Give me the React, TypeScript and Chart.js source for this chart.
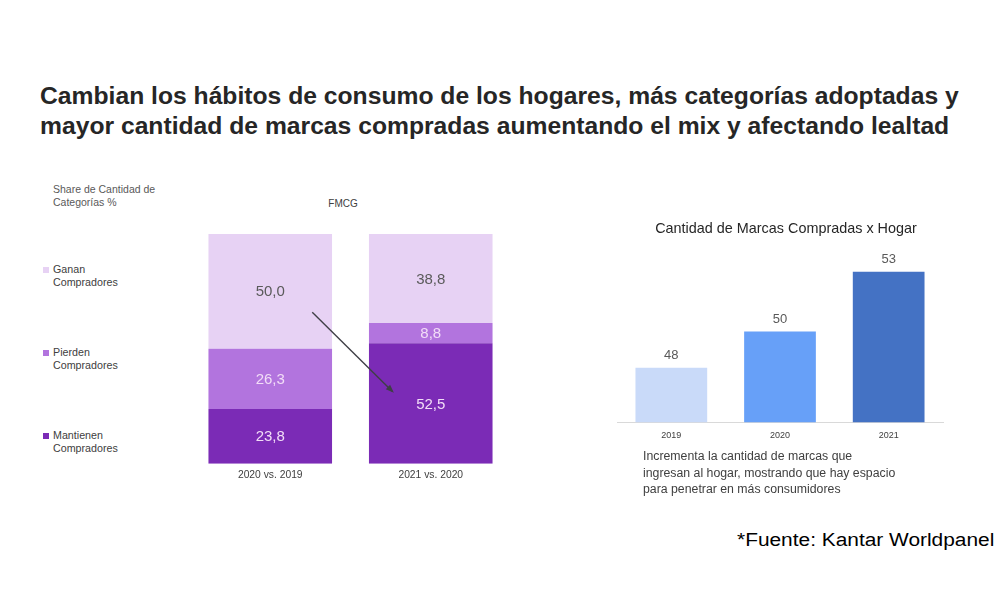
import React, { useEffect, useRef } from "react";
import { Chart, registerables } from "chart.js";

Chart.register(...registerables);

const FONT = "'Liberation Sans', Arial, sans-serif";

// Left chart: share of category count (%)
const shareCategories = ["2020 vs. 2019", "2021 vs. 2020"];
const mantienenValues = [23.8, 52.5];
const pierdenValues = [26.3, 8.8];
const gananValues = [50.0, 38.8];
const shareSeriesNames = ["Ganan\nCompradores", "Pierden\nCompradores", "Mantienen\nCompradores"];
const shareColors = ["#E7D2F4", "#B274DE", "#7B2BB6"];

// Right chart: brands bought per household
const brandTitle = "Cantidad de Marcas Compradas x Hogar";
const brandYears = ["2019", "2020", "2021"];
const brandValues = [48.0, 50.0, 53.3];
const brandColors = ["#C9DAF9", "#67A0F8", "#4472C4"];

const titleLines = [
  "Cambian los hábitos de consumo de los hogares, más categorías adoptadas y",
  "mayor cantidad de marcas compradas aumentando el mix y afectando lealtad",
];
const noteLines = [
  "Incrementa la cantidad de marcas que",
  "ingresan al hogar, mostrando que hay espacio",
  "para penetrar en más consumidores",
];

const fmtComma = (v: number) => v.toFixed(1).replace(".", ",");

function ShareChart() {
  const ref = useRef<HTMLCanvasElement | null>(null);
  useEffect(() => {
    if (!ref.current) return;
    const labelsPlugin = {
      id: "segLabels",
      afterDatasetsDraw(chart: any) {
        const ctx = chart.ctx;
        ctx.save();
        ctx.font = `15px ${FONT}`;
        ctx.textAlign = "center";
        ctx.textBaseline = "middle";
        chart.data.datasets.forEach((ds: any, di: number) => {
          const meta = chart.getDatasetMeta(di);
          meta.data.forEach((el: any, i: number) => {
            const cy = (el.y + el.base) / 2;
            ctx.fillStyle = ds.labelColor;
            ctx.fillText(fmtComma(ds.data[i]), el.x, cy + 1);
          });
        });
        // arrow from Ganan (bar 0) to Mantienen (bar 1)
        const g0 = chart.getDatasetMeta(2).data[0];
        const m1 = chart.getDatasetMeta(0).data[1];
        const sx = g0.x + g0.width * 0.34;
        const sy = (g0.y + g0.base) / 2 + 21;
        const ex = m1.x - m1.width * 0.31;
        const ey = (m1.y + m1.base) / 2 - 12;
        ctx.strokeStyle = "#3F3F46";
        ctx.fillStyle = "#3F3F46";
        ctx.lineWidth = 1.4;
        ctx.beginPath();
        ctx.moveTo(sx, sy);
        ctx.lineTo(ex, ey);
        ctx.stroke();
        const ang = Math.atan2(ey - sy, ex - sx);
        ctx.beginPath();
        ctx.moveTo(ex + Math.cos(ang) * 2, ey + Math.sin(ang) * 2);
        ctx.lineTo(ex - Math.cos(ang - 0.45) * 7, ey - Math.sin(ang - 0.45) * 7);
        ctx.lineTo(ex - Math.cos(ang + 0.45) * 7, ey - Math.sin(ang + 0.45) * 7);
        ctx.closePath();
        ctx.fill();
        ctx.restore();
      },
    };
    const chart = new Chart(ref.current, {
      type: "bar",
      data: {
        labels: shareCategories,
        datasets: [
          { label: shareSeriesNames[2], data: mantienenValues, backgroundColor: shareColors[2], labelColor: "#F2DDF7" } as any,
          { label: shareSeriesNames[1], data: pierdenValues, backgroundColor: shareColors[1], labelColor: "#F2DDF7" } as any,
          { label: shareSeriesNames[0], data: gananValues, backgroundColor: shareColors[0], labelColor: "#5A5A5A" } as any,
        ],
      },
      options: {
        animation: false,
        responsive: false,
        maintainAspectRatio: false,
        layout: { padding: 0 },
        datasets: { bar: { barPercentage: 0.77, categoryPercentage: 1 } },
        plugins: { legend: { display: false }, tooltip: { enabled: false }, title: { display: false } },
        scales: {
          x: {
            stacked: true,
            grid: { display: false, drawTicks: false },
            border: { display: false },
            ticks: { color: "#404040", font: { size: 10.3, family: FONT }, padding: 5 },
          },
          y: { stacked: true, display: false, min: 0, max: 100.1 },
        },
      },
      plugins: [labelsPlugin],
    });
    return () => chart.destroy();
  }, []);
  return <canvas ref={ref} width={321} height={252} style={{ position: "absolute", left: 190, top: 234, width: 321, height: 252 }} />;
}

function BrandChart() {
  const ref = useRef<HTMLCanvasElement | null>(null);
  useEffect(() => {
    if (!ref.current) return;
    const valuePlugin = {
      id: "valLabels",
      afterDatasetsDraw(chart: any) {
        const ctx = chart.ctx;
        ctx.save();
        ctx.font = `13px ${FONT}`;
        ctx.fillStyle = "#595959";
        ctx.textAlign = "center";
        ctx.textBaseline = "middle";
        const meta = chart.getDatasetMeta(0);
        meta.data.forEach((el: any, i: number) => {
          ctx.fillText(String(Math.round(brandValues[i])), el.x, el.y - 12);
        });
        // chart title, centred over the whole canvas
        ctx.font = `14.4px ${FONT}`;
        ctx.fillStyle = "#262626";
        ctx.fillText(brandTitle, chart.width / 2, 14);
        ctx.restore();
      },
    };
    const chart = new Chart(ref.current, {
      type: "bar",
      data: {
        labels: brandYears,
        datasets: [{ data: brandValues, backgroundColor: brandColors, barPercentage: 0.66, categoryPercentage: 1 }],
      },
      options: {
        animation: false,
        responsive: false,
        maintainAspectRatio: false,
        layout: { padding: { top: 26, right: 12 } },
        plugins: {
          legend: { display: false },
          tooltip: { enabled: false },
          title: { display: false },
        },
        scales: {
          x: {
            grid: { display: false, drawTicks: false },
            border: { display: true, color: "#D9D9D9", width: 1 },
            ticks: { color: "#404040", font: { size: 9, family: FONT }, padding: 8 },
          },
          y: { display: false, min: 45, max: 55 },
        },
      },
      plugins: [valuePlugin],
    });
    return () => chart.destroy();
  }, []);
  return <canvas ref={ref} width={338} height={234} style={{ position: "absolute", left: 617, top: 215, width: 338, height: 234 }} />;
}

export default function App() {
  const legendTops = [263, 346, 429];
  return (
    <div style={{ position: "fixed", left: 0, top: 0, width: 1000, height: 600, background: "#fff", fontFamily: FONT, overflow: "hidden" }}>
      <div style={{ position: "absolute", left: 40, top: 81, fontSize: 23.5, fontWeight: "bold", lineHeight: "30px", color: "#262626", whiteSpace: "nowrap", transform: "scaleX(1.05)", transformOrigin: "0 0" }}>
        {titleLines.map((t, i) => (
          <div key={i}>{t}</div>
        ))}
      </div>
      <div style={{ position: "absolute", left: 53, top: 183, fontSize: 10.5, lineHeight: "13px", color: "#595959" }}>
        <div>Share de Cantidad de</div>
        <div>Categorías %</div>
      </div>
      <div style={{ position: "absolute", left: 343, top: 198, fontSize: 10, lineHeight: "12px", color: "#404040", transform: "translateX(-50%)" }}>FMCG</div>
      {shareSeriesNames.map((name, i) => (
        <div key={i} style={{ position: "absolute", left: 43, top: legendTops[i], fontSize: 10.7, lineHeight: "13px", color: "#404040" }}>
          <span style={{ position: "absolute", left: 0, top: 4, width: 6, height: 6, background: shareColors[i] }} />
          {name.split("\n").map((l, j) => (
            <div key={j} style={{ paddingLeft: 10 }}>{l}</div>
          ))}
        </div>
      ))}
      <ShareChart />
      <BrandChart />
      <div style={{ position: "absolute", left: 643, top: 448, fontSize: 12.3, lineHeight: "16.5px", color: "#404040", whiteSpace: "nowrap" }}>
        {noteLines.map((t, i) => (
          <div key={i}>{t}</div>
        ))}
      </div>
      <div style={{ position: "absolute", left: 737, top: 529, fontSize: 18, lineHeight: "22px", color: "#000", whiteSpace: "nowrap", transform: "scaleX(1.16)", transformOrigin: "0 0" }}>
        *Fuente: Kantar Worldpanel
      </div>
    </div>
  );
}
